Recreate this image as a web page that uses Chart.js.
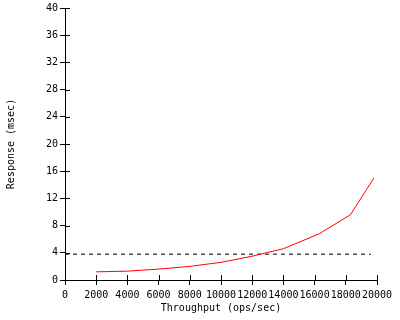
<!DOCTYPE html>
<html>
<head>
<meta charset="utf-8">
<script src="https://cdn.jsdelivr.net/npm/chart.js@4/dist/chart.umd.min.js"></script>
<style>
  html, body { margin: 0; padding: 0; background: #fff; }
  #wrap { width: 400px; height: 320px; }
</style>
</head>
<body>
<div id="wrap"><canvas id="perf"></canvas></div>
<script>
const throughput = [2000, 4000, 6000, 8000, 10000, 12000, 14000, 16300, 18300, 19800];
const response = [1.2, 1.3, 1.6, 2.0, 2.6, 3.5, 4.6, 6.8, 9.6, 15.0];
const limitX = [0, 19600];
const limitY = [3.8, 3.8];

const monoFont = { family: 'DejaVu Sans Mono', size: 10 };

// tick marks that also poke into the plot area
const innerTicks = {
    id: 'innerTicks',
    afterDraw(chart) {
        const ctx = chart.ctx;
        const x = chart.scales.x, y = chart.scales.y;
        ctx.save();
        ctx.strokeStyle = '#000';
        ctx.lineWidth = 1;
        ctx.beginPath();
        y.ticks.forEach(t => {
            const py = Math.round(y.getPixelForValue(t.value)) + 0.5;
            ctx.moveTo(x.left, py);
            ctx.lineTo(x.left + 5, py);
        });
        x.ticks.forEach(t => {
            const px = Math.round(x.getPixelForValue(t.value)) + 0.5;
            ctx.moveTo(px, y.bottom);
            ctx.lineTo(px, y.bottom - 5);
        });
        ctx.stroke();
        ctx.restore();
    }
};

new Chart(document.getElementById('perf'), {
    type: 'line',
    data: {
        datasets: [{
            data: throughput.map((v, i) => ({ x: v, y: response[i] })),
            borderColor: '#ff0000',
            borderWidth: 1,
            pointRadius: 0,
            tension: 0,
        }, {
            data: limitX.map((v, i) => ({ x: v, y: limitY[i] })),
            borderColor: '#000',
            borderWidth: 1,
            borderDash: [4, 4],
            pointRadius: 0,
        }],
    },
    options: {
        responsive: true,
        maintainAspectRatio: false,
        animation: false,
        layout: { padding: { top: 8, right: 23, left: 0, bottom: 0 } },
        plugins: {
            legend: { display: false },
            tooltip: { enabled: false },
        },
        scales: {
            x: {
                type: 'linear',
                min: 0,
                max: 20000,
                afterFit: s => { s.height = 40; },
                ticks: {
                    stepSize: 2000, color: '#000', font: monoFont, padding: 4,
                    maxRotation: 0, autoSkip: false,
                    callback: v => String(v),
                },
                grid: { drawOnChartArea: false, tickLength: 5, color: '#000' },
                border: { color: '#000', width: 1 },
                title: { display: true, text: 'Throughput (ops/sec)', color: '#000', font: monoFont, padding: { top: 0, bottom: 6 } },
            },
            y: {
                min: 0,
                max: 40,
                afterFit: s => { s.width = 65; },
                ticks: { stepSize: 4, color: '#000', font: monoFont, padding: 2, callback: v => String(v) },
                grid: { drawOnChartArea: false, tickLength: 5, color: '#000' },
                border: { color: '#000', width: 1 },
                title: { display: true, text: 'Response (msec)', color: '#000', font: monoFont, padding: { top: 5, bottom: 0 } },
            },
        },
    },
    plugins: [innerTicks],
});
</script>
</body>
</html>
